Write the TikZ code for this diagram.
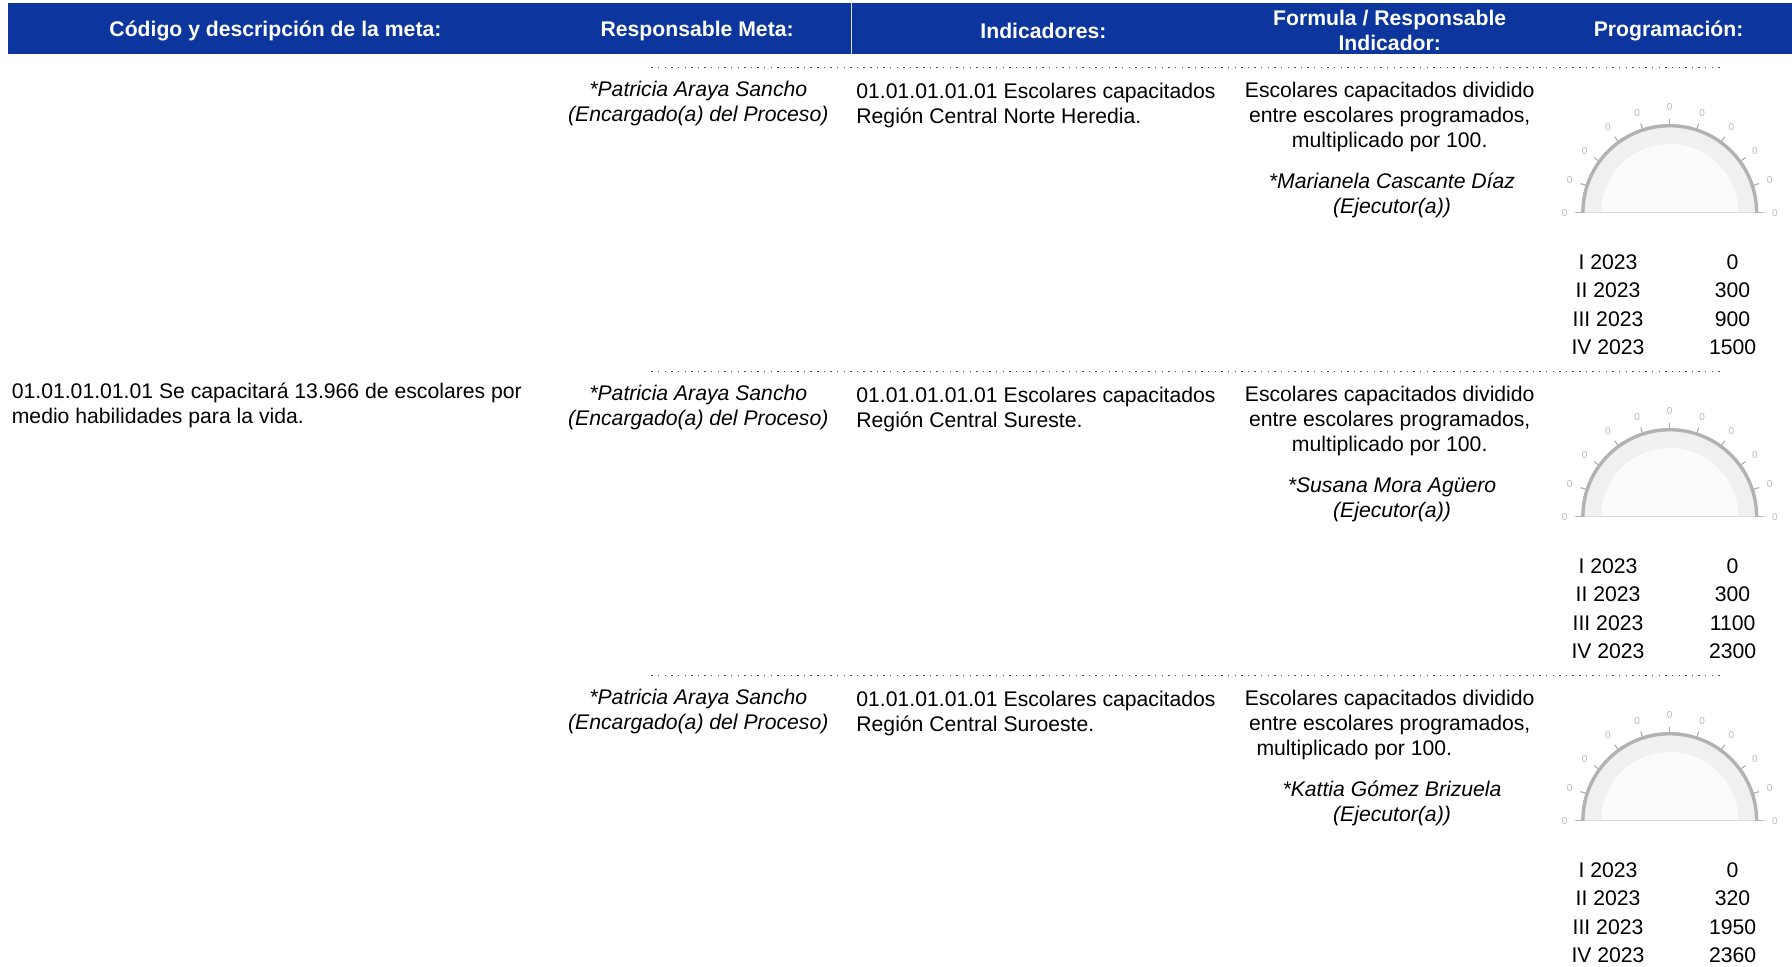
\documentclass[tikz,border=0pt]{standalone}
\usepackage{fontspec}
\setmainfont{Liberation Sans}
\definecolor{hdrblue}{RGB}{12,54,158}

% gauge: #1 = name, #2 = centre of its base
\newcommand{\gauge}[2]{%
  \begin{scope}[shift={#2}]
    \fill[gray!12] (-76,0) arc[start angle=180, end angle=0, radius=76] -- cycle;
    \fill[gray!3] (-60,0) arc[start angle=180, end angle=0, radius=60] -- cycle;
    \draw[gray!30] (-84,0) -- (84,0);
    \draw[gray!60, line width=1.7pt] (-76,0) arc[start angle=180, end angle=0, radius=76];
    \foreach \k in {0,...,10} {
      \draw[gray!60, line width=0.6pt] (180-18*\k:76) -- (180-18*\k:82);
      \node[gaugelbl] (#1-\k) at (180-18*\k:92) {0};
    }
  \end{scope}}

\begin{document}
\begin{tikzpicture}[x=0.02cm, y=0.02cm,
    hdr/.style={text=white, font=\fontsize{10.55}{12.2}\selectfont\bfseries, align=center, inner sep=0},
    txt/.style={font=\fontsize{10.55}{12.47}\selectfont, inner sep=0},
    who/.style={txt, font=\fontsize{10.55}{12.47}\selectfont\itshape, align=center},
    tbl/.style={font=\fontsize{10.55}{14.2}\selectfont, align=center, inner sep=0},
    gaugelbl/.style={text=gray!55, font=\fontsize{5}{6}\selectfont, inner sep=0},
    sep/.style={black!70, line width=0.6pt, dash pattern=on 0.7pt off 2.6pt}]
    \useasboundingbox (0,0) rectangle (1568,846);

    % Header
    \fill[hdrblue] (7,799) rectangle (1568,843);
    \draw[white!85!hdrblue, line width=0.5pt] (745,799) -- (745,843);
    \node[hdr] (hcode) at (241,819) {Código y descripción de la meta:};
    \node[hdr] (hresp) at (610,819) {Responsable Meta:};
    \node[hdr] (hind) at (913,819) {Indicadores:};
    \node[hdr] (hform) at (1216,819.5) {Formula / Responsable\\Indicador:};
    \node[hdr] (hprog) at (1460,819) {Programación:};

    % Meta
    \node[txt, anchor=west, align=left] (meta) at (10,491) {01.01.01.01.01 Se capacitará 13.966 de escolares por\\medio habilidades para la vida.};

    % Row 1
    \draw[sep] (570,787) -- (1505,787);
    \node[who] (resp1) at (611,755) {*Patricia Araya Sancho\\(Encargado(a) del Proceso)};
    \node[txt, anchor=west, align=left] (ind1) at (749,754) {01.01.01.01.01 Escolares capacitados\\Región Central Norte Heredia.};
    \node[txt, align=center] (form1) at (1216,743.5) {Escolares capacitados dividido\\entre escolares programados,\\multiplicado por 100.};
    \node[who] (exec1) at (1218,675) {*Marianela Cascante Díaz\\(Ejecutor(a))};
    \gauge{g1}{(1461,660)}
    \node[tbl] (per1) at (1407,579.5) {I 2023\\II 2023\\III 2023\\IV 2023};
    \node[tbl] (val1) at (1516,579.5) {0\\300\\900\\1500};

    % Row 2
    \draw[sep] (570,521) -- (1505,521);
    \node[who] (resp2) at (611,489) {*Patricia Araya Sancho\\(Encargado(a) del Proceso)};
    \node[txt, anchor=west, align=left] (ind2) at (749,488) {01.01.01.01.01 Escolares capacitados\\Región Central Sureste.};
    \node[txt, align=center] (form2) at (1216,477.5) {Escolares capacitados dividido\\entre escolares programados,\\multiplicado por 100.};
    \node[who] (exec2) at (1218,409) {*Susana Mora Agüero\\(Ejecutor(a))};
    \gauge{g2}{(1461,394)}
    \node[tbl] (per2) at (1407,313.5) {I 2023\\II 2023\\III 2023\\IV 2023};
    \node[tbl] (val2) at (1516,313.5) {0\\300\\1100\\2300};

    % Row 3
    \draw[sep] (570,255) -- (1505,255);
    \node[who] (resp3) at (611,223) {*Patricia Araya Sancho\\(Encargado(a) del Proceso)};
    \node[txt, anchor=west, align=left] (ind3) at (749,222) {01.01.01.01.01 Escolares capacitados\\Región Central Suroeste.};
    \node[txt, align=center] (form3) at (1216,211.5) {Escolares capacitados dividido\\entre escolares programados,\\multiplicado por 100.\hspace*{1.24cm}};
    \node[who] (exec3) at (1218,143) {*Kattia Gómez Brizuela\\(Ejecutor(a))};
    \gauge{g3}{(1461,128)}
    \node[tbl] (per3) at (1407,47.5) {I 2023\\II 2023\\III 2023\\IV 2023};
    \node[tbl] (val3) at (1516,47.5) {0\\320\\1950\\2360};
\end{tikzpicture}
\end{document}
